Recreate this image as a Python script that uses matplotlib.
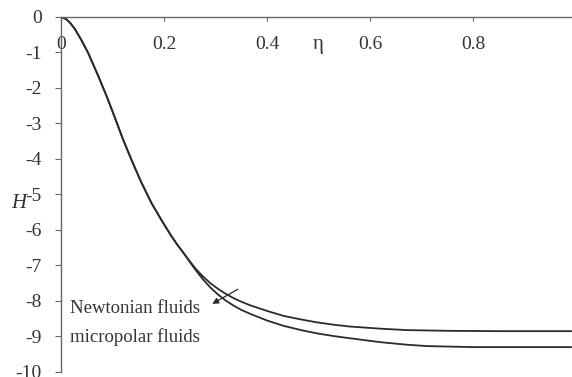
import matplotlib
matplotlib.use('Agg')
from matplotlib import pyplot as plt

# values
eta_common = [0, 0.01, 0.018, 0.027, 0.04, 0.053, 0.062, 0.072, 0.09, 0.105, 0.12, 0.137,
              0.155, 0.176, 0.195, 0.212, 0.225, 0.237]
h_common = [0, -0.06, -0.17, -0.34, -0.66, -1.02, -1.32, -1.65, -2.28, -2.85, -3.43, -4.03,
            -4.63, -5.25, -5.72, -6.12, -6.4, -6.63]

eta_newt = [0.25, 0.262, 0.275, 0.29, 0.305, 0.32, 0.335, 0.35, 0.367, 0.40, 0.432, 0.466,
            0.496, 0.53, 0.561, 0.62, 0.671, 0.75, 0.85, 0.99]
h_newt = [-6.88, -7.1, -7.3, -7.5, -7.66, -7.8, -7.92, -8.02, -8.12, -8.28, -8.42, -8.52,
          -8.6, -8.67, -8.72, -8.78, -8.82, -8.84, -8.85, -8.85]

eta_micro = [0.25, 0.262, 0.275, 0.29, 0.305, 0.32, 0.335, 0.35, 0.367, 0.40, 0.432, 0.466,
             0.496, 0.53, 0.561, 0.62, 0.67, 0.71, 0.8, 0.99]
h_micro = [-6.9, -7.14, -7.38, -7.62, -7.82, -7.99, -8.13, -8.25, -8.36, -8.55, -8.7, -8.82,
           -8.91, -8.99, -9.05, -9.16, -9.23, -9.27, -9.3, -9.3]

labels = ['Newtonian fluids', 'micropolar fluids']
xticks = [0, 0.2, 0.4, 0.6, 0.8]
yticks = list(range(0, -11, -1))

plt.rcParams['font.family'] = ['Liberation Serif', 'DejaVu Serif']

fig = plt.figure(figsize=(5.72, 3.77), dpi=100)
ax = fig.add_axes([0.1066, 0.0133, 0.8934, 0.9417])

c = '#2b2b2b'
ax.plot(eta_common + eta_newt, h_common + h_newt, color=c, lw=1.3)
ax.plot(eta_common + eta_micro, h_common + h_micro, color=c, lw=1.3)

ax.set_xlim(0, 0.992)
ax.set_ylim(-10, 0)

ax.spines['bottom'].set_position(('data', 0))
ax.spines['top'].set_visible(False)
ax.spines['right'].set_visible(False)
for s in ['bottom', 'left']:
    ax.spines[s].set_color('#666666')
    ax.spines[s].set_linewidth(1.0)

ax.set_xticks(xticks)
ax.set_xticklabels(['0', '0.2', '0.4', '0.6', '0.8'])
ax.set_yticks(yticks)
ax.set_yticklabels([str(v) for v in yticks])
ax.tick_params(axis='x', direction='out', length=3, pad=11, labelsize=14, colors='#666666', labelcolor='#333333')
ax.tick_params(axis='y', direction='out', length=4, pad=10, labelsize=14, colors='#666666', labelcolor='#333333')

ax.set_xlabel('η', fontsize=15, color='#333333')
ax.xaxis.set_label_coords(0.503, 0.95)
ax.set_ylabel('H', fontsize=15, style='italic', rotation=0, color='#333333')
ax.yaxis.set_label_coords(-0.082, 0.448)

ax.text(0.0175, -8.2, labels[0], fontsize=13.5, va='center', ha='left', color='#333333')
ax.text(0.0175, -9.02, labels[1], fontsize=13.5, va='center', ha='left', color='#333333')
ax.annotate('', xy=(0.289, -8.12), xytext=(0.348, -7.63),
            arrowprops=dict(arrowstyle='-|>', color=c, lw=0.9, mutation_scale=9))

fig.savefig('out.png', dpi=100)
